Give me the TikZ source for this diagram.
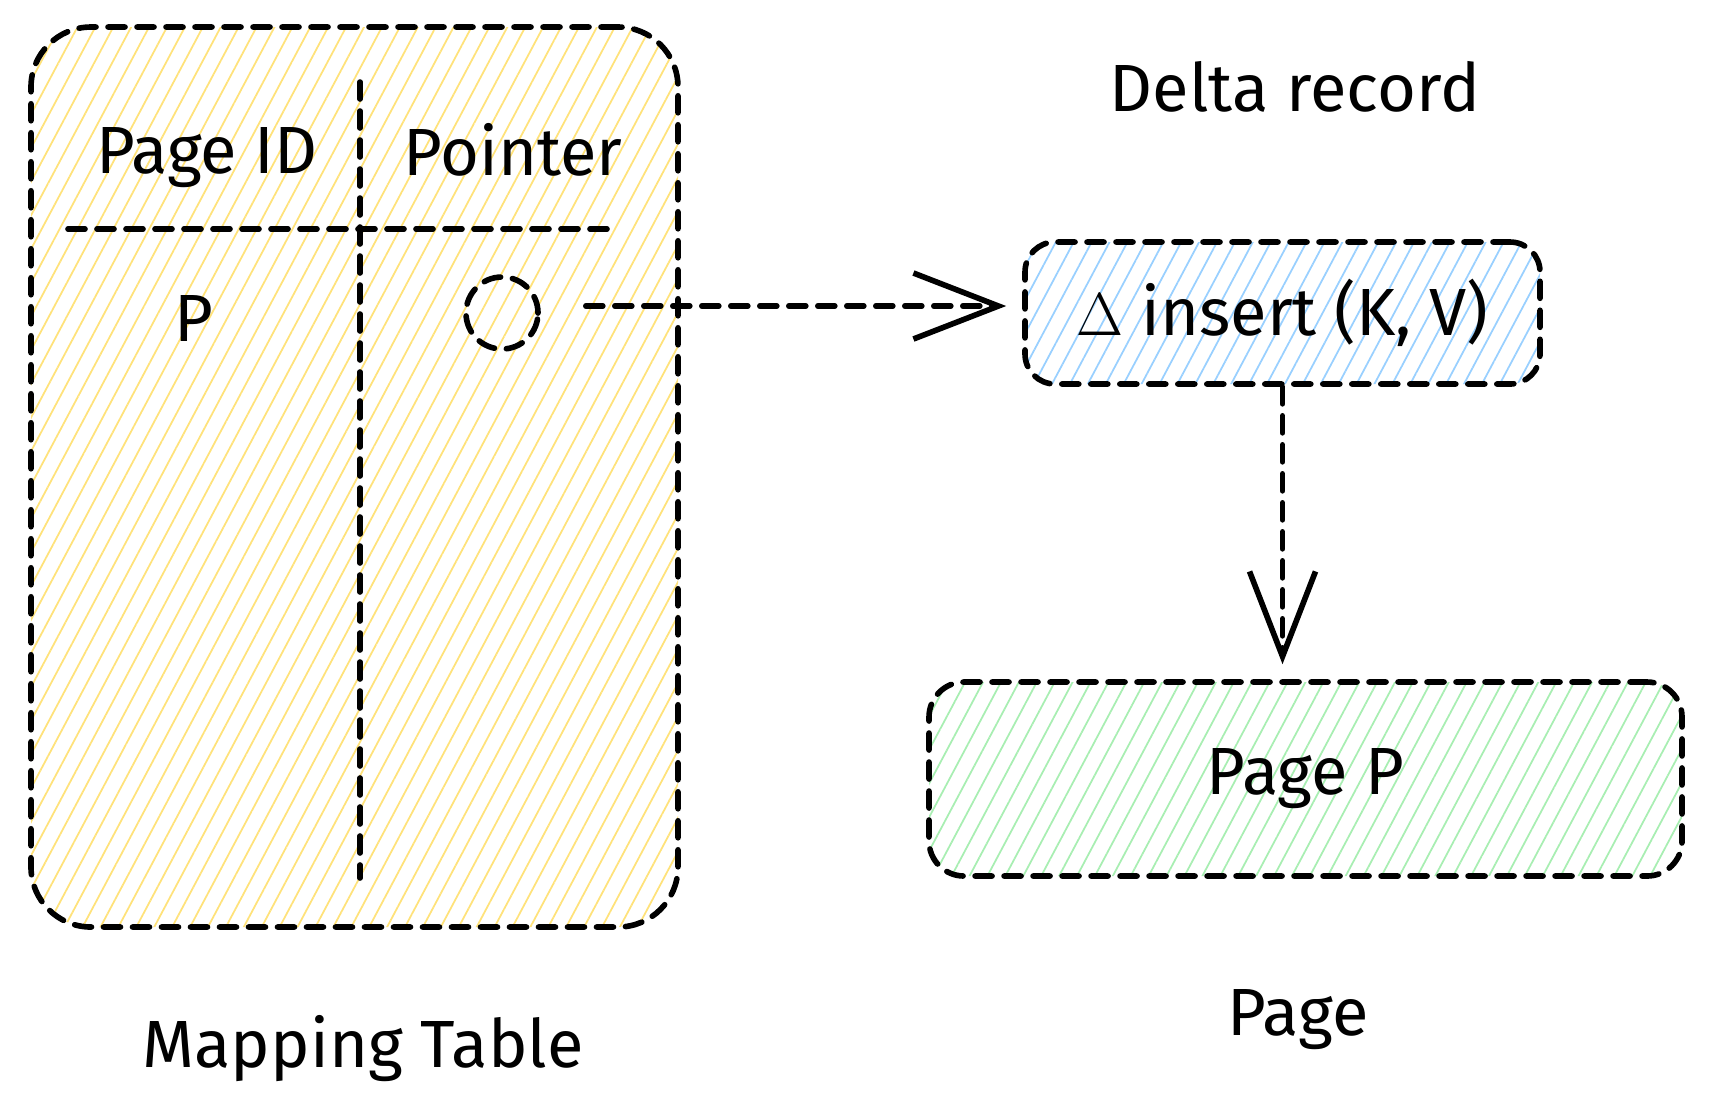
\documentclass[tikz,border=0pt]{standalone}
\usepackage{fontspec}
\setmainfont{Fira Sans}
\usetikzlibrary{positioning,calc,patterns.meta,arrows.meta}

\definecolor{hatchyellow}{HTML}{FFE27A}
\definecolor{hatchblue}{HTML}{99D0FF}
\definecolor{hatchgreen}{HTML}{A8EEB2}

\begin{document}
\begin{tikzpicture}[
      sketch/.style={
        line width=1.6pt,
        line cap=round,
        dash pattern=on 0.17cm off 0.12cm},
      hatch/.style={
        pattern={Lines[angle=62,distance=4.5pt,line width=0.5pt]},
        pattern color=#1},
      box/.style={
        sketch,
        draw,
        rectangle,
        font=\fontsize{19}{22}\selectfont},
      label/.style={font=\fontsize{19}{22}\selectfont},
      barb/.style={
        sketch,
        -{Straight Barb[length=0.85cm,width=0.66cm,line width=1.6pt]}}]
    \useasboundingbox (0,0) rectangle (17.1,-11.16);

    \node [box, hatch=hatchyellow, rounded corners=0.6cm,
           minimum width=6.47cm, minimum height=9cm] (tbl) at (3.545,-4.77) {};
    \draw [sketch] (3.60,-0.82) -- (3.60,-8.78);
    \draw [sketch] (0.68,-2.29) -- (6.11,-2.29);

    \node [label, anchor=base] (pid) at (2.07,-1.73) {Page ID};
    \node [label, anchor=base] (pptr) at (5.13,-1.75) {Pointer};
    \node [label] (pp) at (1.94,-3.18) {P};
    \node [sketch, draw, circle, minimum size=0.72cm] (ptr) at (5.02,-3.13) {};

    \node [box, hatch=hatchblue, rounded corners=0.3cm,
           minimum width=5.15cm, minimum height=1.42cm] (delta) at (12.825,-3.13) {$\Delta$ insert (K, V)};
    \node [label] (dlabel) at (12.95,-0.87) {Delta record};

    \node [box, hatch=hatchgreen, rounded corners=0.35cm,
           minimum width=7.53cm, minimum height=1.94cm] (page) at (13.055,-7.79) {Page P};
    \node [label] (plabel) at (12.98,-10.20) {Page};
    \node [label] (tlabel) at (3.63,-10.49) {Mapping Table};

    \draw [barb, shorten <=0.45cm, shorten >=0.16cm] ([yshift=0.07cm]ptr.east) -- ([yshift=0.07cm]delta.west);
    \draw [barb, shorten >=0.15cm] (delta.south) -- (delta.south |- page.north);
  \end{tikzpicture}
\end{document}
